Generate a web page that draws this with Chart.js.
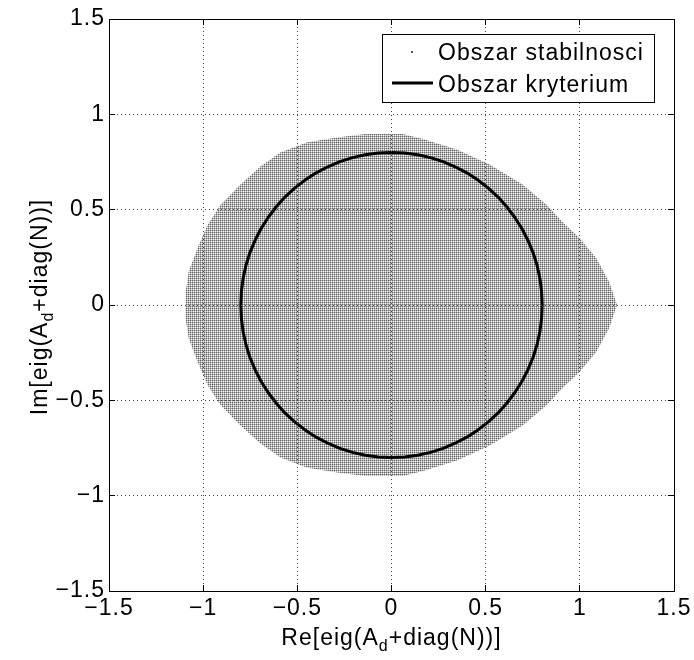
<!DOCTYPE html>
<html>
<head>
<meta charset="utf-8">
<script src="https://cdn.jsdelivr.net/npm/chart.js@4.4.0/dist/chart.umd.min.js"></script>
<style>
  html, body { margin: 0; padding: 0; background: #fff; }
  #chart { display: block; }
</style>
</head>
<body>
<canvas id="chart" width="694" height="660"></canvas>
<script>
// Axis ticks
const xTickValues = [-1.5, -1, -0.5, 0, 0.5, 1, 1.5];
const yTickValues = [-1.5, -1, -0.5, 0, 0.5, 1, 1.5];

// Boundary of the stability region, closed loop
const regionRe = [1.198, 1.156, 1.087, 0.997, 0.907, 0.823, 0.696, 0.521, 0.347, 0.167, 0.06, -0.14, -0.288, -0.447, -0.590, -0.696, -0.802, -0.907, -0.976, -1.029, -1.077, -1.093, -1.095,
                  -1.093, -1.077, -1.029, -0.976, -0.907, -0.802, -0.696, -0.590, -0.447, -0.288, -0.14, 0.06, 0.167, 0.347, 0.521, 0.696, 0.823, 0.907, 0.997, 1.087, 1.156, 1.198];
const regionIm = [0, 0.121, 0.247, 0.353, 0.437, 0.526, 0.632, 0.737, 0.816, 0.870, 0.897, 0.897, 0.879, 0.853, 0.800, 0.726, 0.632, 0.526, 0.421, 0.300, 0.174, 0.068, 0,
                  -0.068, -0.174, -0.300, -0.421, -0.526, -0.632, -0.726, -0.800, -0.853, -0.879, -0.897, -0.897, -0.870, -0.816, -0.737, -0.632, -0.526, -0.437, -0.353, -0.247, -0.121, 0];

// Criterion circle (radius 0.8), every 5 degrees
const circleRe = [0.800, 0.797, 0.788, 0.773, 0.752, 0.725, 0.693, 0.655, 0.613, 0.566, 0.514, 0.459, 0.400, 0.338, 0.274, 0.207, 0.139, 0.070, 0.000,
                  -0.070, -0.139, -0.207, -0.274, -0.338, -0.400, -0.459, -0.514, -0.566, -0.613, -0.655, -0.693, -0.725, -0.752, -0.773, -0.788, -0.797, -0.800,
                  -0.797, -0.788, -0.773, -0.752, -0.725, -0.693, -0.655, -0.613, -0.566, -0.514, -0.459, -0.400, -0.338, -0.274, -0.207, -0.139, -0.070, 0.000,
                  0.070, 0.139, 0.207, 0.274, 0.338, 0.400, 0.459, 0.514, 0.566, 0.613, 0.655, 0.693, 0.725, 0.752, 0.773, 0.788, 0.797, 0.800];
const circleIm = [0.000, 0.070, 0.139, 0.207, 0.274, 0.338, 0.400, 0.459, 0.514, 0.566, 0.613, 0.655, 0.693, 0.725, 0.752, 0.773, 0.788, 0.797, 0.800,
                  0.797, 0.788, 0.773, 0.752, 0.725, 0.693, 0.655, 0.613, 0.566, 0.514, 0.459, 0.400, 0.338, 0.274, 0.207, 0.139, 0.070, 0.000,
                  -0.070, -0.139, -0.207, -0.274, -0.338, -0.400, -0.459, -0.514, -0.566, -0.613, -0.655, -0.693, -0.725, -0.752, -0.773, -0.788, -0.797, -0.800,
                  -0.797, -0.788, -0.773, -0.752, -0.725, -0.693, -0.655, -0.613, -0.566, -0.514, -0.459, -0.400, -0.338, -0.274, -0.207, -0.139, -0.070, 0.000];

const seriesLabels = ['Obszar stabilnosci', 'Obszar kryterium'];
const xTitleParts = ['Re[eig(A', 'd', '+diag(N))]'];
const yTitleParts = ['Im[eig(A', 'd', '+diag(N))]'];

const FONT = "'Liberation Sans', Arial, Helvetica, sans-serif";
const MAIN_FONT = '23px ' + FONT;
const SUB_FONT = '16px ' + FONT;

function toPoints(xs, ys) {
    return xs.map((x, i) => ({ x: x, y: ys[i] }));
}

function fmtTick(v) {
    return v < 0 ? '\u2212' + Math.abs(v) : String(v);
}

// dotted texture like the dense marker grid of the original
function makeTexture(ctx) {
    const tile = document.createElement('canvas');
    tile.width = 2;
    tile.height = 2;
    const g = tile.getContext('2d');
    g.fillStyle = '#f2f2f2'; g.fillRect(0, 0, 2, 2);
    g.fillStyle = '#b4b4b4'; g.fillRect(1, 0, 1, 1); g.fillRect(0, 1, 1, 1);
    g.fillStyle = '#666666'; g.fillRect(0, 0, 1, 1);
    return ctx.createPattern(tile, 'repeat');
}

// text with one subscript part, centred on x = 0, baseline at y = 0
function drawSubLabel(ctx, parts) {
    ctx.font = MAIN_FONT;
    const w0 = ctx.measureText(parts[0]).width;
    const w2 = ctx.measureText(parts[2]).width;
    ctx.font = SUB_FONT;
    const w1 = ctx.measureText(parts[1]).width;
    let x = -(w0 + w1 + w2) / 2;
    ctx.textAlign = 'left';
    ctx.textBaseline = 'alphabetic';
    ctx.font = MAIN_FONT;
    ctx.fillText(parts[0], x, 0);
    x += w0;
    ctx.font = SUB_FONT;
    ctx.fillText(parts[1], x, 6);
    x += w1;
    ctx.font = MAIN_FONT;
    ctx.fillText(parts[2], x, 0);
}

const framePlugin = {
    id: 'matlabFrame',
    beforeDraw(chart) {
        chart.ctx.letterSpacing = '1px';
    },
    afterDraw(chart) {
        const ctx = chart.ctx;
        const a = chart.chartArea;
        const xs = chart.scales.x;
        const ys = chart.scales.y;
        const tl = 6;
        ctx.save();
        ctx.strokeStyle = '#000';
        ctx.lineWidth = 1;
        ctx.setLineDash([]);

        // inward ticks on all four sides
        ctx.beginPath();
        xs.ticks.forEach(t => {
            const px = Math.round(xs.getPixelForValue(t.value) - 0.5) + 0.5;
            ctx.moveTo(px, a.bottom); ctx.lineTo(px, a.bottom - tl);
            ctx.moveTo(px, a.top); ctx.lineTo(px, a.top + tl);
        });
        ys.ticks.forEach(t => {
            const py = Math.round(ys.getPixelForValue(t.value) - 0.5) + 0.5;
            ctx.moveTo(a.left, py); ctx.lineTo(a.left + tl, py);
            ctx.moveTo(a.right, py); ctx.lineTo(a.right - tl, py);
        });
        ctx.stroke();
        ctx.strokeRect(a.left + 0.5, a.top + 0.5, a.right - a.left, a.bottom - a.top);

        // axis titles
        ctx.fillStyle = '#000';
        ctx.save();
        ctx.translate((a.left + a.right) / 2, 645);
        drawSubLabel(ctx, xTitleParts);
        ctx.restore();
        ctx.save();
        ctx.translate(47, 307);
        ctx.rotate(-Math.PI / 2);
        drawSubLabel(ctx, yTitleParts);
        ctx.restore();

        // legend box
        const lx = 382, ly = 34, lw = 272, lh = 68;
        ctx.fillStyle = '#fff';
        ctx.fillRect(lx, ly, lw, lh);
        ctx.strokeStyle = '#000';
        ctx.strokeRect(lx + 0.5, ly + 0.5, lw, lh);
        ctx.fillStyle = '#555';
        ctx.fillRect(411, 51, 2, 2);
        ctx.beginPath();
        ctx.lineWidth = 3;
        ctx.moveTo(392, 83);
        ctx.lineTo(433, 83);
        ctx.stroke();
        ctx.fillStyle = '#000';
        ctx.font = MAIN_FONT;
        ctx.textAlign = 'left';
        ctx.textBaseline = 'alphabetic';
        ctx.fillText(chart.data.datasets[0].label, 438, 60);
        ctx.fillText(chart.data.datasets[1].label, 438, 92);
        ctx.restore();
    }
};

Chart.defaults.font.family = FONT;
Chart.defaults.color = '#000';

const canvas = document.getElementById('chart');
const texture = makeTexture(canvas.getContext('2d'));

function axisOptions(tickValues, size) {
    return {
        type: 'linear',
        min: -1.5,
        max: 1.5,
        afterBuildTicks: s => { s.ticks = tickValues.map(v => ({ value: v })); },
        ticks: {
            autoSkip: false,
            maxRotation: 0,
            font: { size: 23 },
            padding: size.padding,
            callback: v => fmtTick(v)
        },
        grid: { color: '#444', lineWidth: 1, drawTicks: false, z: 1 },
        border: { display: false, dash: [1, 3] },
        afterFit: size.fit
    };
}

new Chart(canvas, {
    type: 'scatter',
    data: {
        datasets: [{
            label: seriesLabels[0],
            data: toPoints(regionRe, regionIm),
            showLine: true,
            fill: 'shape',
            backgroundColor: texture,
            borderColor: 'rgba(0,0,0,0)',
            borderWidth: 0,
            pointRadius: 0,
            order: 2
        }, {
            label: seriesLabels[1],
            data: toPoints(circleRe, circleIm),
            showLine: true,
            fill: false,
            borderColor: '#000',
            borderWidth: 3,
            borderJoinStyle: 'round',
            pointRadius: 0,
            order: 1
        }]
    },
    options: {
        responsive: false,
        animation: false,
        events: [],
        layout: { padding: { top: 19, right: 20, left: 0, bottom: 0 } },
        plugins: {
            legend: { display: false },
            tooltip: { enabled: false }
        },
        scales: {
            x: axisOptions(xTickValues, { padding: 4, fit: s => { s.height = 69; } }),
            y: axisOptions(yTickValues, { padding: 4, fit: s => { s.width = 109; } })
        }
    },
    plugins: [framePlugin]
});
</script>
</body>
</html>
